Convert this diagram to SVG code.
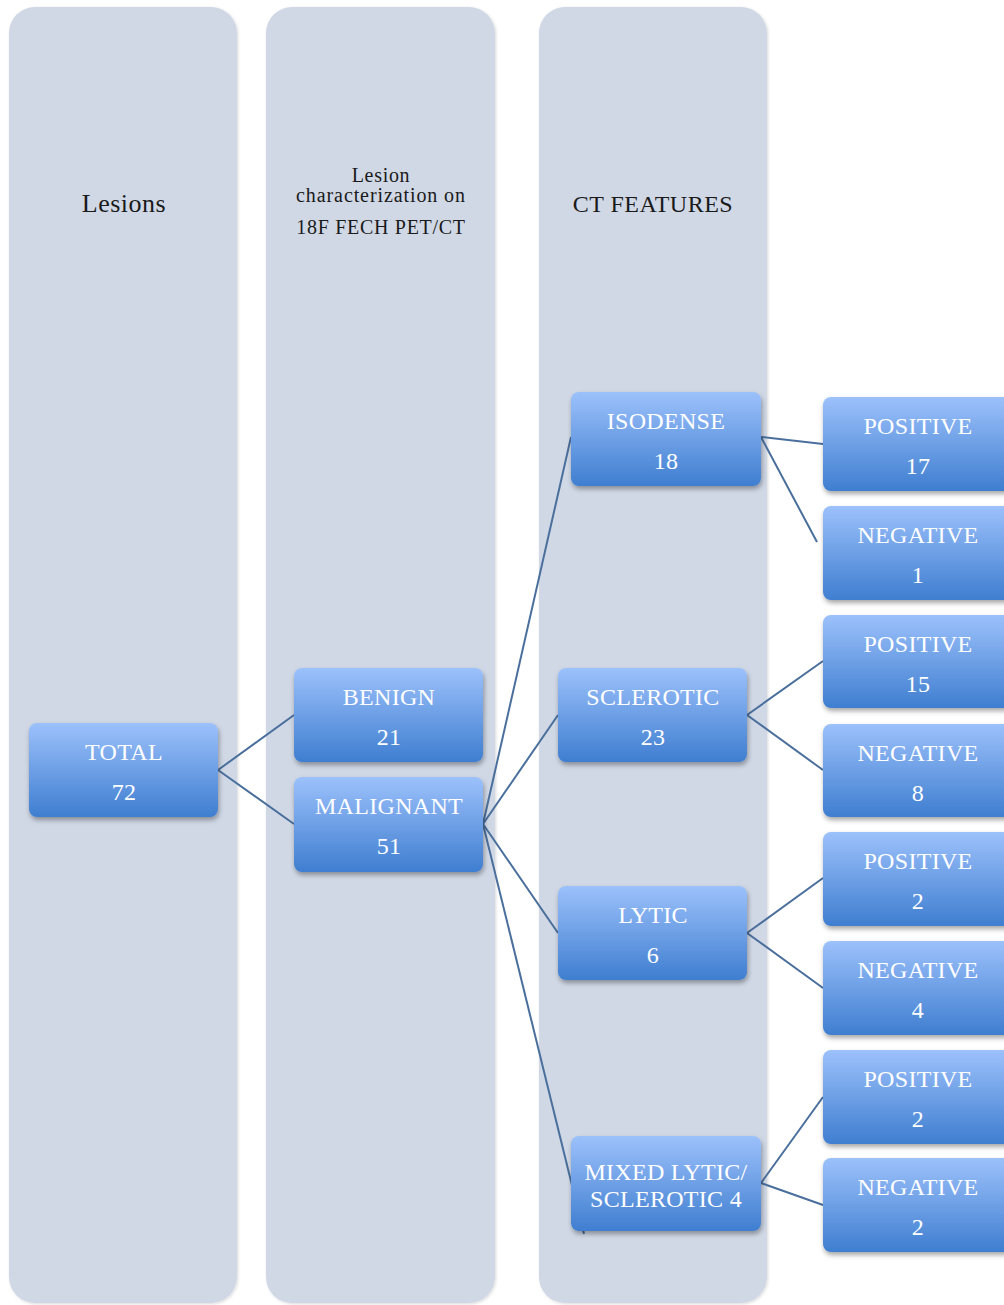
<svg xmlns="http://www.w3.org/2000/svg" width="1004" height="1305" viewBox="0 0 1004 1305">
<defs>
<linearGradient id="nodeGrad" x1="0" y1="0" x2="0" y2="1">
<stop offset="0" stop-color="#9cc1fb"/>
<stop offset="1" stop-color="#3f7ed0"/>
</linearGradient>
<filter id="shadow" x="-10%" y="-10%" width="130%" height="140%">
<feDropShadow dx="1" dy="3" stdDeviation="2.5" flood-color="#000" flood-opacity="0.35"/>
</filter>
<filter id="colShadow" x="-5%" y="-2%" width="115%" height="104%">
<feDropShadow dx="1" dy="1" stdDeviation="1.5" flood-color="#000" flood-opacity="0.15"/>
</filter>
</defs>
<style>
.col{fill:#d0d8e6;filter:url(#colShadow);}
.node rect{fill:url(#nodeGrad);filter:url(#shadow);}
.node text{fill:#ffffff;font-family:"Liberation Serif","DejaVu Serif",serif;font-size:24px;text-anchor:middle;letter-spacing:0.3px;}
.title{fill:#1a1a1a;font-family:"Liberation Serif","DejaVu Serif",serif;text-anchor:middle;}
.conn line{stroke:#4a6f9c;stroke-width:2;fill:none;}
</style>
<rect width="1004" height="1305" fill="#ffffff"/>
<g id="columns">
<rect class="col" x="9" y="7" width="228" height="1296" rx="26"/>
<rect class="col" x="266" y="7" width="229" height="1296" rx="26"/>
<rect class="col" x="539" y="7" width="228" height="1296" rx="26"/>
<text class="title" x="124" y="212" font-size="26" letter-spacing="0.5">Lesions</text>
<text class="title" x="381" y="182" font-size="20" letter-spacing="0.7">Lesion</text>
<text class="title" x="381" y="202" font-size="20" letter-spacing="0.9">characterization on</text>
<text class="title" x="381" y="234" font-size="20" letter-spacing="0.7">18F FECH PET/CT</text>
<text class="title" x="653" y="212" font-size="24" letter-spacing="0.5">CT FEATURES</text>
</g>
<g id="connectors" class="conn">
<line x1="218" y1="770" x2="294" y2="715"/>
<line x1="218" y1="770" x2="294" y2="824"/>
<line x1="483" y1="824" x2="571" y2="437"/>
<line x1="483" y1="824" x2="558" y2="715"/>
<line x1="483" y1="824" x2="558" y2="933"/>
<line x1="483" y1="824" x2="584" y2="1234"/>
<line x1="761" y1="437" x2="823" y2="444"/>
<line x1="761" y1="437" x2="817" y2="542"/>
<line x1="747" y1="715" x2="823" y2="661"/>
<line x1="747" y1="715" x2="823" y2="770"/>
<line x1="747" y1="933" x2="823" y2="878"/>
<line x1="747" y1="933" x2="823" y2="988"/>
<line x1="761" y1="1183" x2="823" y2="1097"/>
<line x1="761" y1="1183" x2="823" y2="1205"/>
</g>
<g id="total" class="node"><rect x="29" y="723" width="189" height="94" rx="8"/><text x="124" y="760">TOTAL</text><text x="124" y="800">72</text></g>
<g id="benign" class="node"><rect x="294" y="668" width="189" height="94" rx="8"/><text x="389" y="705">BENIGN</text><text x="389" y="745">21</text></g>
<g id="malignant" class="node"><rect x="294" y="777" width="189" height="95" rx="8"/><text x="389" y="814">MALIGNANT</text><text x="389" y="854">51</text></g>
<g id="isodense" class="node"><rect x="571" y="392" width="190" height="94" rx="8"/><text x="666" y="429">ISODENSE</text><text x="666" y="469">18</text></g>
<g id="sclerotic" class="node"><rect x="558" y="668" width="189" height="94" rx="8"/><text x="653" y="705">SCLEROTIC</text><text x="653" y="745">23</text></g>
<g id="lytic" class="node"><rect x="558" y="886" width="189" height="94" rx="8"/><text x="653" y="923">LYTIC</text><text x="653" y="963">6</text></g>
<g id="mixed" class="node"><rect x="571" y="1136" width="190" height="95" rx="8"/><text x="666" y="1180">MIXED LYTIC/</text><text x="666" y="1207">SCLEROTIC 4</text></g>
<g id="pos17" class="node"><rect x="823" y="397" width="192" height="94" rx="8"/><text x="918" y="434">POSITIVE</text><text x="918" y="474">17</text></g>
<g id="neg1" class="node"><rect x="823" y="506" width="192" height="94" rx="8"/><text x="918" y="543">NEGATIVE</text><text x="918" y="583">1</text></g>
<g id="pos15" class="node"><rect x="823" y="615" width="192" height="93" rx="8"/><text x="918" y="652">POSITIVE</text><text x="918" y="692">15</text></g>
<g id="neg8" class="node"><rect x="823" y="724" width="192" height="93" rx="8"/><text x="918" y="761">NEGATIVE</text><text x="918" y="801">8</text></g>
<g id="pos2a" class="node"><rect x="823" y="832" width="192" height="94" rx="8"/><text x="918" y="869">POSITIVE</text><text x="918" y="909">2</text></g>
<g id="neg4" class="node"><rect x="823" y="941" width="192" height="94" rx="8"/><text x="918" y="978">NEGATIVE</text><text x="918" y="1018">4</text></g>
<g id="pos2b" class="node"><rect x="823" y="1050" width="192" height="94" rx="8"/><text x="918" y="1087">POSITIVE</text><text x="918" y="1127">2</text></g>
<g id="neg2" class="node"><rect x="823" y="1158" width="192" height="94" rx="8"/><text x="918" y="1195">NEGATIVE</text><text x="918" y="1235">2</text></g>
</svg>
